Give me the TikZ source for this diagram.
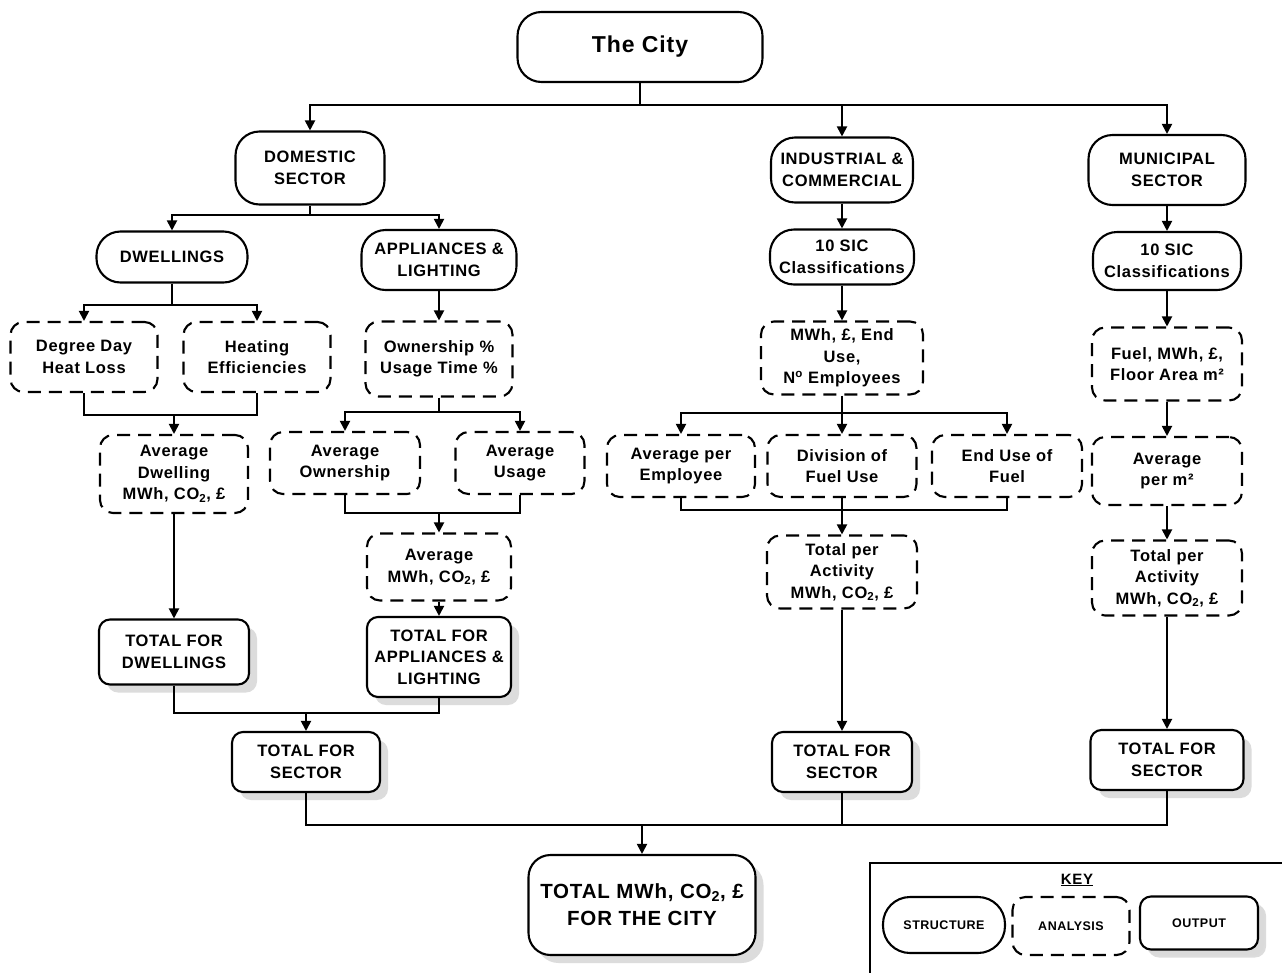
\documentclass[tikz,border=0pt]{standalone}
\usepackage{fontspec}
\setmainfont{Liberation Sans}[LetterSpace=4]
\usetikzlibrary{arrows.meta,shadows}
\begin{document}
\begin{tikzpicture}[x=1pt,y=-1pt,
  base/.style={draw, line width=2.1pt, align=center, inner sep=0pt,
    font=\fontsize{16.5}{21.5}\selectfont\bfseries},
  struct/.style={base, rounded corners=24pt},
  anal/.style={base, dash pattern=on 13pt off 8pt, rounded corners=13pt},
  outp/.style={base, rounded corners=11pt, fill=white,
    drop shadow={shadow xshift=8pt, shadow yshift=-8pt, fill=gray!45, opacity=0.6}},
  ln/.style={line width=1.9pt},
  arr/.style={line width=1.9pt, -{Triangle[width=10pt,length=10pt]}},
  sz/.style 2 args={minimum width=#1pt, minimum height=#2pt}
]
\useasboundingbox (0,0) rectangle (1282,972);
\fill[white] (0,0) rectangle (1282,972);

% structure
\node[struct, sz={245}{70}, font=\fontsize{23}{28}\selectfont\bfseries] (city) at (640,47) {The City};
\node[struct, sz={149}{73}] (dom) at (310,168) {DOMESTIC\\SECTOR};
\node[struct, sz={142}{65}] (ind) at (842,170) {INDUSTRIAL \&\\COMMERCIAL};
\node[struct, sz={157}{70}] (mun) at (1167,170) {MUNICIPAL\\SECTOR};
\node[struct, sz={151}{51}] (dwel) at (172,257) {DWELLINGS};
\node[struct, sz={155}{60}] (app) at (439,260) {APPLIANCES \&\\LIGHTING};
\node[struct, sz={144}{55}] (sic1) at (842,257) {10 SIC\\Classifications};
\node[struct, sz={148}{58}] (sic2) at (1167,261) {10 SIC\\Classifications};

% analysis
\node[anal, sz={147}{70}] (deg) at (84,357) {Degree Day\\Heat Loss};
\node[anal, sz={147}{70}] (heat) at (257,357) {Heating\\Efficiencies};
\node[anal, sz={147}{75}] (own) at (439,359) {Ownership \%\\Usage Time \%};
\node[anal, sz={162}{73}] (mwh1) at (842,358) {MWh, £, End\\Use,\\N\textsuperscript{o} Employees};
\node[anal, sz={150}{73}] (fuel) at (1167,364) {Fuel, MWh, £,\\Floor Area m²};
\node[anal, sz={148}{78}] (avgd) at (174,474) {Average\\Dwelling\\MWh, CO\textsubscript{2}, £};
\node[anal, sz={150}{62}] (avgo) at (345,463) {Average\\Ownership};
\node[anal, sz={129}{62}] (avgu) at (520,463) {Average\\Usage};
\node[anal, sz={148}{62}] (ape) at (681,466) {Average per\\Employee};
\node[anal, sz={149}{62}] (div) at (842,466) {Division of\\Fuel Use};
\node[anal, sz={150}{62}] (eou) at (1007,466) {End Use of\\Fuel};
\node[anal, sz={150}{68}] (avgm) at (1167,471) {Average\\per m²};
\node[anal, sz={144}{67}] (amwh) at (439,567) {Average\\MWh, CO\textsubscript{2}, £};
\node[anal, sz={150}{73}] (tpa1) at (842,572) {Total per\\Activity\\MWh, CO\textsubscript{2}, £};
\node[anal, sz={150}{75}] (tpa2) at (1167,578) {Total per\\Activity\\MWh, CO\textsubscript{2}, £};

% outputs
\node[outp, sz={150}{65}] (totd) at (174,652) {TOTAL FOR\\DWELLINGS};
\node[outp, sz={144}{80}] (tota) at (439,657) {TOTAL FOR\\APPLIANCES \&\\LIGHTING};
\node[outp, sz={148}{60}] (tsd) at (306,762) {TOTAL FOR\\SECTOR};
\node[outp, sz={140}{60}] (tsi) at (842,762) {TOTAL FOR\\SECTOR};
\node[outp, sz={153}{60}] (tsm) at (1167,760) {TOTAL FOR\\SECTOR};
\node[outp, sz={227}{100}, rounded corners=22pt, font=\fontsize{20.5}{27}\selectfont\bfseries] (ctot) at (642,905) {TOTAL MWh, CO\textsubscript{2}, £\\FOR THE CITY};

% junctions
\coordinate (j0) at (640,105);
\coordinate (j1) at (310,215);
\coordinate (j2) at (172,305);
\coordinate (j3) at (174,415);
\coordinate (j4) at (439,412);
\coordinate (j5) at (439,513);
\coordinate (j6) at (306,713);
\coordinate (j7) at (842,413);
\coordinate (j8) at (842,510);
\coordinate (j9) at (642,825);

% connectors
\draw[ln] (city.south) -- (j0);
\draw[arr] (j0) -| (dom);
\draw[arr] (j0) -| (ind);
\draw[arr] (j0) -| (mun);

\draw[ln] (dom.south) -- (j1);
\draw[arr] (j1) -| (dwel);
\draw[arr] (j1) -| (app);

\draw[ln] (dwel.south) -- (j2);
\draw[arr] (j2) -| (deg);
\draw[arr] (j2) -| (heat);
\draw[ln] (deg.south) |- (j3);
\draw[ln] (heat.south) |- (j3);
\draw[arr] (j3) -- (avgd);
\draw[arr] (avgd) -- (totd);

\draw[arr] (app) -- (own);
\draw[ln] (own.south) -- (j4);
\draw[arr] (j4) -| (avgo);
\draw[arr] (j4) -| (avgu);
\draw[ln] (avgo.south) |- (j5);
\draw[ln] (avgu.south) |- (j5);
\draw[arr] (j5) -- (amwh);
\draw[arr] (amwh) -- (tota);

\draw[ln] (totd.south) |- (j6);
\draw[ln] (tota.south) |- (j6);
\draw[arr] (j6) -- (tsd);

\draw[arr] (ind) -- (sic1);
\draw[arr] (sic1) -- (mwh1);
\draw[ln] (mwh1.south) -- (j7);
\draw[arr] (j7) -| (ape);
\draw[arr] (j7) -- (div);
\draw[arr] (j7) -| (eou);
\draw[ln] (ape.south) |- (j8);
\draw[ln] (eou.south) |- (j8);
\draw[ln] (div.south) -- (j8);
\draw[arr] (j8) -- (tpa1);
\draw[arr] (tpa1) -- (tsi);

\draw[arr] (mun) -- (sic2);
\draw[arr] (sic2) -- (fuel);
\draw[arr] (fuel) -- (avgm);
\draw[arr] (avgm) -- (tpa2);
\draw[arr] (tpa2) -- (tsm);

\draw[ln] (tsd.south) |- (j9);
\draw[ln] (tsm.south) |- (j9);
\draw[ln] (tsi.south) -- (tsi.south |- j9);
\draw[arr] (j9) -- (ctot);

% key
\draw[line width=1.8pt] (1284,863) -- (870,863) -- (870,974);
\node[font=\fontsize{15}{18}\selectfont\bfseries] (keyt) at (1077,880) {\underline{KEY}};
\node[struct, sz={122}{56}, rounded corners=27pt, font=\fontsize{12.5}{15}\selectfont\bfseries] (ks) at (944,925) {STRUCTURE};
\node[anal, sz={117}{58}, font=\fontsize{12.5}{15}\selectfont\bfseries] (ka) at (1071,926) {ANALYSIS};
\node[outp, sz={118}{53}, drop shadow={shadow xshift=6pt, shadow yshift=-6pt, fill=gray!30, opacity=0.5}, font=\fontsize{12.5}{15}\selectfont\bfseries] (ko) at (1199,923) {OUTPUT};
\end{tikzpicture}
\end{document}
